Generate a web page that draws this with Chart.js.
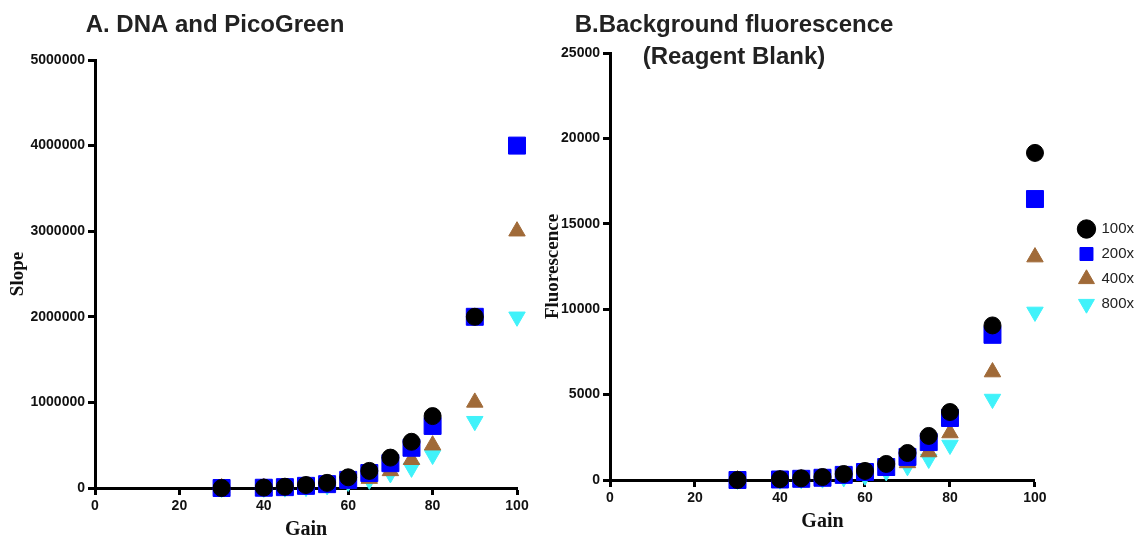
<!DOCTYPE html>
<html>
<head>
<meta charset="utf-8">
<script src="https://cdn.jsdelivr.net/npm/chart.js@4.4.1/dist/chart.umd.min.js"></script>
<style>
  body { margin: 0; background: #fff; }
  #page { position: relative; width: 1138px; height: 541px; overflow: hidden; }
  .panel { position: absolute; top: 0; height: 541px; }
  #panel-a { left: 0; width: 545px; }
  #panel-b { left: 540px; width: 604px; }
</style>
</head>
<body>
<div id="page">
  <div class="panel" id="panel-a"><canvas id="chart-slope"></canvas></div>
  <div class="panel" id="panel-b"><canvas id="chart-blank"></canvas></div>
</div>
<script>
// gain settings on the x axis (same for both panels)
const gains = [30, 40, 45, 50, 55, 60, 65, 70, 75, 80, 90, 100];
const dilutions = ["100x", "200x", "400x", "800x"];

// A. DNA and PicoGreen - slope
const slope100 = [0, 5000, 15000, 35000, 60000, 125000, 200000, 355000, 540000, 840000, 2000000, null];
const slope200 = [0, 3000, 10000, 25000, 45000, 95000, 175000, 290000, 470000, 725000, 2000000, 4000000];
const slope400 = [0, 2000, 6000, 15000, 35000, 55000, 110000, 200000, 330000, 500000, 1000000, 3000000];
const slope800 = [0, 1000, 4000, 10000, 30000, 70000, 95000, 170000, 235000, 385000, 780000, 2000000];

// B. reagent blank - fluorescence
const fluor100 = [0, 50, 100, 175, 350, 530, 940, 1580, 2580, 3980, 9050, 19150];
const fluor200 = [0, 30, 70, 130, 300, 470, 760, 1350, 2220, 3630, 8500, 16450];
const fluor400 = [0, 20, 50, 100, 180, 300, 550, 1000, 1640, 2750, 6320, 13050];
const fluor800 = [0, 15, 40, 80, 150, 250, 500, 800, 1230, 2050, 4740, 9840];

const xTicks = [0, 20, 40, 60, 80, 100];
const slopeTicks = [0, 1000000, 2000000, 3000000, 4000000, 5000000];
const fluorTicks = [0, 5000, 10000, 15000, 20000, 25000];

const colors = ["#000000", "#0000ff", "#a06a38", "#40f2fa"];
const styles = [
  { pointStyle: "circle", pointRadius: 8.5, pointRotation: 0 },
  { pointStyle: "rect", pointRadius: 12, pointRotation: 0 },
  { pointStyle: "triangle", pointRadius: 9.5, pointRotation: 0 },
  { pointStyle: "triangle", pointRadius: 9.5, pointRotation: 180 },
];

const sans = "Arial, 'Liberation Sans', Helvetica, sans-serif";
const serif = "'Times New Roman', 'Liberation Serif', serif";

function points(values) {
  return gains
    .map((g, i) => ({ x: g, y: values[i] }))
    .filter((p) => p.y !== null);
}

function makeDatasets(series) {
  return series.map((values, i) => ({
    label: dilutions[i],
    data: points(values),
    backgroundColor: colors[i],
    borderColor: colors[i],
    borderWidth: 1,
    pointStyle: styles[i].pointStyle,
    pointRadius: styles[i].pointRadius,
    pointHoverRadius: styles[i].pointRadius,
    pointRotation: styles[i].pointRotation,
    clip: false,
  }));
}

// panel heading drawn above the plot, left of the canvas centre
const panelTitle = {
  id: "panelTitle",
  afterDraw(chart, args, opts) {
    const ctx = chart.ctx;
    ctx.save();
    ctx.font = "bold 24px " + sans;
    ctx.fillStyle = "#222";
    ctx.textAlign = "center";
    ctx.textBaseline = "middle";
    opts.lines.forEach((line, i) => {
      ctx.fillText(line, opts.x, opts.y + i * opts.gap);
    });
    ctx.restore();
  },
};

function axisX(height, titlePad) {
  return {
    type: "linear",
    min: 0,
    max: 100,
    afterBuildTicks: (s) => { s.ticks = xTicks.map((v) => ({ value: v })); },
    afterFit: (s) => { s.height = height; },
    border: { color: "#000", width: 3 },
    grid: { drawOnChartArea: false, tickLength: 7, tickWidth: 3, tickColor: "#000" },
    ticks: { color: "#111", padding: 3, font: { family: sans, size: 14, weight: "bold" } },
    title: {
      display: true,
      text: "Gain",
      color: "#111",
      padding: { top: 0, bottom: titlePad },
      font: { family: serif, size: 20, weight: "bold", lineHeight: 1 },
    },
  };
}

function axisY(label, tickValues, width, titlePad) {
  return {
    type: "linear",
    min: 0,
    max: tickValues[tickValues.length - 1],
    afterBuildTicks: (s) => { s.ticks = tickValues.map((v) => ({ value: v })); },
    afterFit: (s) => { s.width = width; },
    border: { color: "#000", width: 3 },
    grid: { drawOnChartArea: false, tickLength: 7, tickWidth: 3, tickColor: "#000" },
    ticks: {
      color: "#111",
      padding: 3,
      font: { family: sans, size: 14, weight: "bold" },
      callback: (v) => String(v),
    },
    title: {
      display: true,
      text: label,
      color: "#111",
      padding: { top: titlePad, bottom: 0 },
      font: { family: serif, size: 19, weight: "bold", lineHeight: 1 },
    },
  };
}

new Chart(document.getElementById("chart-slope"), {
  type: "scatter",
  data: { datasets: makeDatasets([slope100, slope200, slope400, slope800]) },
  plugins: [panelTitle],
  options: {
    responsive: true,
    maintainAspectRatio: false,
    animation: false,
    layout: { padding: { left: 0, right: 28, top: 60, bottom: 0 } },
    scales: {
      x: axisX(53, 1),
      y: axisY("Slope", slopeTicks, 95, 8.5),
    },
    plugins: {
      legend: { display: false },
      tooltip: { enabled: false },
      panelTitle: { lines: ["A. DNA and PicoGreen"], x: 215, y: 25, gap: 32 },
    },
  },
});

new Chart(document.getElementById("chart-blank"), {
  type: "scatter",
  data: { datasets: makeDatasets([fluor100, fluor200, fluor400, fluor800]) },
  plugins: [panelTitle],
  options: {
    responsive: true,
    maintainAspectRatio: false,
    animation: false,
    layout: { padding: { left: 0, right: 0, top: 53, bottom: 0 } },
    scales: {
      x: axisX(61, 9),
      y: axisY("Fluorescence", fluorTicks, 70, 3.5),
      // empty right axis, only keeps a gap between plot and legend
      gap: {
        type: "linear",
        position: "right",
        display: true,
        grid: { display: false },
        border: { display: false },
        ticks: { display: false },
        afterFit: (s) => { s.width = 34; },
      },
    },
    plugins: {
      legend: {
        position: "right",
        fullSize: false,
        labels: {
          usePointStyle: true,
          boxWidth: 15,
          boxHeight: 13,
          padding: 10,
          color: "#222",
          font: { family: sans, size: 15 },
        },
      },
      tooltip: { enabled: false },
      panelTitle: { lines: ["B.Background fluorescence", "(Reagent Blank)"], x: 194, y: 25, gap: 32 },
    },
  },
});
</script>
</body>
</html>
